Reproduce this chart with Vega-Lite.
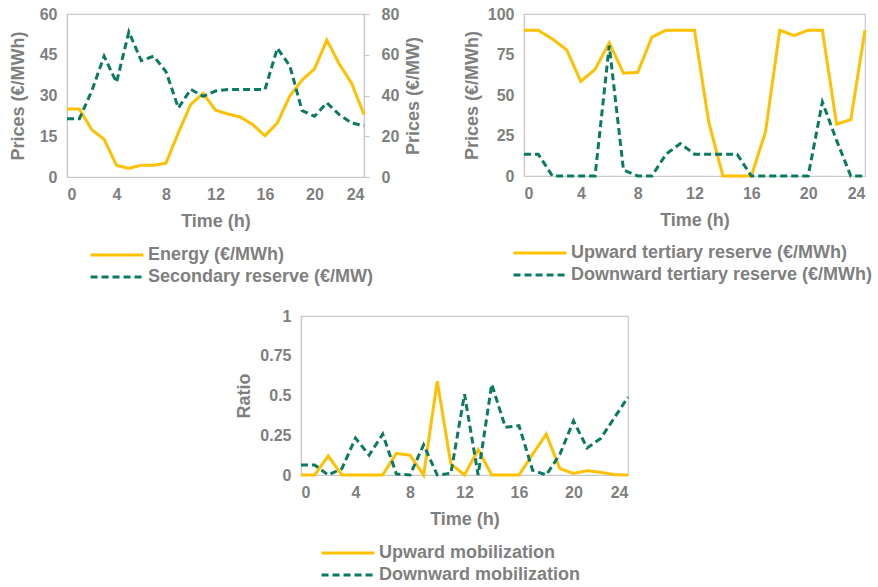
{
  "$schema": "https://vega.github.io/schema/vega-lite/v6.json",
  "padding": {"left": 8, "top": 5, "right": 5, "bottom": 5},
  "background": "white",
  "bounds": "full",
  "spacing": 20,
  "resolve": {"scale": {"color": "independent", "strokeDash": "independent"}},
  "config": {
    "font": "Liberation Sans",
    "view": {"stroke": "#c9c9c9", "strokeWidth": 1.2},
    "axis": {
      "grid": false,
      "labelFont": "Liberation Sans",
      "labelFontWeight": "bold",
      "labelFontSize": 16,
      "labelColor": "#7f7f7f",
      "titleFont": "Liberation Sans",
      "titleFontWeight": "bold",
      "titleFontSize": 18,
      "titleColor": "#7f7f7f",
      "domainColor": "#c9c9c9",
      "domainWidth": 1.2,
      "ticks": false,
      "tickSize": 0,
      "labelPadding": 10
    },
    "legend": {
      "orient": "none",
      "direction": "vertical",
      "padding": 0,
      "symbolType": "M-5,0H5",
      "symbolSize": 112,
      "symbolStrokeWidth": 3,
      "rowPadding": 4,
      "labelFont": "Liberation Sans",
      "labelFontWeight": "bold",
      "labelFontSize": 18,
      "labelColor": "#7f7f7f",
      "labelOffset": 22,
      "labelLimit": 500
    },
    "line": {"strokeWidth": 3}
  },
  "datasets": {
    "energy": [
      {"h": 0, "s": "Energy (€/MWh)", "v": 25}, {"h": 1, "s": "Energy (€/MWh)", "v": 25},
      {"h": 2, "s": "Energy (€/MWh)", "v": 17.4}, {"h": 3, "s": "Energy (€/MWh)", "v": 13.9},
      {"h": 4, "s": "Energy (€/MWh)", "v": 4.3}, {"h": 5, "s": "Energy (€/MWh)", "v": 3.2},
      {"h": 6, "s": "Energy (€/MWh)", "v": 4.3}, {"h": 7, "s": "Energy (€/MWh)", "v": 4.3},
      {"h": 8, "s": "Energy (€/MWh)", "v": 5.1}, {"h": 9, "s": "Energy (€/MWh)", "v": 16.3},
      {"h": 10, "s": "Energy (€/MWh)", "v": 26.7}, {"h": 11, "s": "Energy (€/MWh)", "v": 30.8},
      {"h": 12, "s": "Energy (€/MWh)", "v": 24.6}, {"h": 13, "s": "Energy (€/MWh)", "v": 23.2},
      {"h": 14, "s": "Energy (€/MWh)", "v": 22.1}, {"h": 15, "s": "Energy (€/MWh)", "v": 19.3},
      {"h": 16, "s": "Energy (€/MWh)", "v": 15.2}, {"h": 17, "s": "Energy (€/MWh)", "v": 19.9},
      {"h": 18, "s": "Energy (€/MWh)", "v": 29.8}, {"h": 19, "s": "Energy (€/MWh)", "v": 35.7},
      {"h": 20, "s": "Energy (€/MWh)", "v": 39.8}, {"h": 21, "s": "Energy (€/MWh)", "v": 50.4},
      {"h": 22, "s": "Energy (€/MWh)", "v": 41.6}, {"h": 23, "s": "Energy (€/MWh)", "v": 34.5},
      {"h": 24, "s": "Energy (€/MWh)", "v": 23}
    ],
    "secondary": [
      {"h": 0, "s": "Secondary reserve (€/MW)", "v": 28.6}, {"h": 1, "s": "Secondary reserve (€/MW)", "v": 28.6},
      {"h": 2, "s": "Secondary reserve (€/MW)", "v": 42.2}, {"h": 3, "s": "Secondary reserve (€/MW)", "v": 59.3},
      {"h": 4, "s": "Secondary reserve (€/MW)", "v": 46.4}, {"h": 5, "s": "Secondary reserve (€/MW)", "v": 71.2},
      {"h": 6, "s": "Secondary reserve (€/MW)", "v": 57.1}, {"h": 7, "s": "Secondary reserve (€/MW)", "v": 59.3},
      {"h": 8, "s": "Secondary reserve (€/MW)", "v": 51.7}, {"h": 9, "s": "Secondary reserve (€/MW)", "v": 33.9},
      {"h": 10, "s": "Secondary reserve (€/MW)", "v": 43}, {"h": 11, "s": "Secondary reserve (€/MW)", "v": 39.6},
      {"h": 12, "s": "Secondary reserve (€/MW)", "v": 42.2}, {"h": 13, "s": "Secondary reserve (€/MW)", "v": 43},
      {"h": 14, "s": "Secondary reserve (€/MW)", "v": 43}, {"h": 15, "s": "Secondary reserve (€/MW)", "v": 43},
      {"h": 16, "s": "Secondary reserve (€/MW)", "v": 43}, {"h": 17, "s": "Secondary reserve (€/MW)", "v": 63.2},
      {"h": 18, "s": "Secondary reserve (€/MW)", "v": 54.6}, {"h": 19, "s": "Secondary reserve (€/MW)", "v": 32.6},
      {"h": 20, "s": "Secondary reserve (€/MW)", "v": 29.8}, {"h": 21, "s": "Secondary reserve (€/MW)", "v": 36.4},
      {"h": 22, "s": "Secondary reserve (€/MW)", "v": 30.6}, {"h": 23, "s": "Secondary reserve (€/MW)", "v": 26.5},
      {"h": 24, "s": "Secondary reserve (€/MW)", "v": 25.2}
    ],
    "tertiary": [
      {"h": 0, "s": "Upward tertiary reserve (€/MWh)", "v": 90}, {"h": 1, "s": "Upward tertiary reserve (€/MWh)", "v": 90},
      {"h": 2, "s": "Upward tertiary reserve (€/MWh)", "v": 84.6}, {"h": 3, "s": "Upward tertiary reserve (€/MWh)", "v": 77.9},
      {"h": 4, "s": "Upward tertiary reserve (€/MWh)", "v": 58.4}, {"h": 5, "s": "Upward tertiary reserve (€/MWh)", "v": 65.8},
      {"h": 6, "s": "Upward tertiary reserve (€/MWh)", "v": 82.2}, {"h": 7, "s": "Upward tertiary reserve (€/MWh)", "v": 63.5},
      {"h": 8, "s": "Upward tertiary reserve (€/MWh)", "v": 63.9}, {"h": 9, "s": "Upward tertiary reserve (€/MWh)", "v": 85.7},
      {"h": 10, "s": "Upward tertiary reserve (€/MWh)", "v": 90}, {"h": 11, "s": "Upward tertiary reserve (€/MWh)", "v": 90},
      {"h": 12, "s": "Upward tertiary reserve (€/MWh)", "v": 90}, {"h": 13, "s": "Upward tertiary reserve (€/MWh)", "v": 33.4},
      {"h": 14, "s": "Upward tertiary reserve (€/MWh)", "v": 0}, {"h": 15, "s": "Upward tertiary reserve (€/MWh)", "v": 0},
      {"h": 16, "s": "Upward tertiary reserve (€/MWh)", "v": 0}, {"h": 17, "s": "Upward tertiary reserve (€/MWh)", "v": 27.3},
      {"h": 18, "s": "Upward tertiary reserve (€/MWh)", "v": 90}, {"h": 19, "s": "Upward tertiary reserve (€/MWh)", "v": 86.7},
      {"h": 20, "s": "Upward tertiary reserve (€/MWh)", "v": 90}, {"h": 21, "s": "Upward tertiary reserve (€/MWh)", "v": 90},
      {"h": 22, "s": "Upward tertiary reserve (€/MWh)", "v": 32}, {"h": 23, "s": "Upward tertiary reserve (€/MWh)", "v": 34.8},
      {"h": 24, "s": "Upward tertiary reserve (€/MWh)", "v": 90},
      {"h": 0, "s": "Downward tertiary reserve (€/MWh)", "v": 13.5}, {"h": 1, "s": "Downward tertiary reserve (€/MWh)", "v": 13.5},
      {"h": 2, "s": "Downward tertiary reserve (€/MWh)", "v": 0}, {"h": 3, "s": "Downward tertiary reserve (€/MWh)", "v": 0},
      {"h": 4, "s": "Downward tertiary reserve (€/MWh)", "v": 0}, {"h": 5, "s": "Downward tertiary reserve (€/MWh)", "v": 0},
      {"h": 6, "s": "Downward tertiary reserve (€/MWh)", "v": 80.5}, {"h": 7, "s": "Downward tertiary reserve (€/MWh)", "v": 3.7},
      {"h": 8, "s": "Downward tertiary reserve (€/MWh)", "v": 0}, {"h": 9, "s": "Downward tertiary reserve (€/MWh)", "v": 0},
      {"h": 10, "s": "Downward tertiary reserve (€/MWh)", "v": 13.5}, {"h": 11, "s": "Downward tertiary reserve (€/MWh)", "v": 20},
      {"h": 12, "s": "Downward tertiary reserve (€/MWh)", "v": 13.5}, {"h": 13, "s": "Downward tertiary reserve (€/MWh)", "v": 13.5},
      {"h": 14, "s": "Downward tertiary reserve (€/MWh)", "v": 13.5}, {"h": 15, "s": "Downward tertiary reserve (€/MWh)", "v": 13.5},
      {"h": 16, "s": "Downward tertiary reserve (€/MWh)", "v": 0}, {"h": 17, "s": "Downward tertiary reserve (€/MWh)", "v": 0},
      {"h": 18, "s": "Downward tertiary reserve (€/MWh)", "v": 0}, {"h": 19, "s": "Downward tertiary reserve (€/MWh)", "v": 0},
      {"h": 20, "s": "Downward tertiary reserve (€/MWh)", "v": 0}, {"h": 21, "s": "Downward tertiary reserve (€/MWh)", "v": 45.7},
      {"h": 22, "s": "Downward tertiary reserve (€/MWh)", "v": 22}, {"h": 23, "s": "Downward tertiary reserve (€/MWh)", "v": 0},
      {"h": 24, "s": "Downward tertiary reserve (€/MWh)", "v": 0}
    ],
    "mobilization": [
      {"h": 0, "s": "Upward mobilization", "v": 0}, {"h": 1, "s": "Upward mobilization", "v": 0},
      {"h": 2, "s": "Upward mobilization", "v": 0.12}, {"h": 3, "s": "Upward mobilization", "v": 0},
      {"h": 4, "s": "Upward mobilization", "v": 0}, {"h": 5, "s": "Upward mobilization", "v": 0},
      {"h": 6, "s": "Upward mobilization", "v": 0}, {"h": 7, "s": "Upward mobilization", "v": 0.136},
      {"h": 8, "s": "Upward mobilization", "v": 0.125}, {"h": 9, "s": "Upward mobilization", "v": 0},
      {"h": 10, "s": "Upward mobilization", "v": 0.59}, {"h": 11, "s": "Upward mobilization", "v": 0.07},
      {"h": 12, "s": "Upward mobilization", "v": 0}, {"h": 13, "s": "Upward mobilization", "v": 0.16},
      {"h": 14, "s": "Upward mobilization", "v": 0}, {"h": 15, "s": "Upward mobilization", "v": 0},
      {"h": 16, "s": "Upward mobilization", "v": 0}, {"h": 17, "s": "Upward mobilization", "v": 0.13},
      {"h": 18, "s": "Upward mobilization", "v": 0.257}, {"h": 19, "s": "Upward mobilization", "v": 0.04},
      {"h": 20, "s": "Upward mobilization", "v": 0.01}, {"h": 21, "s": "Upward mobilization", "v": 0.027},
      {"h": 22, "s": "Upward mobilization", "v": 0.017}, {"h": 23, "s": "Upward mobilization", "v": 0.002},
      {"h": 24, "s": "Upward mobilization", "v": 0},
      {"h": 0, "s": "Downward mobilization", "v": 0.063}, {"h": 1, "s": "Downward mobilization", "v": 0.063},
      {"h": 2, "s": "Downward mobilization", "v": 0}, {"h": 3, "s": "Downward mobilization", "v": 0.04},
      {"h": 4, "s": "Downward mobilization", "v": 0.232}, {"h": 5, "s": "Downward mobilization", "v": 0.125},
      {"h": 6, "s": "Downward mobilization", "v": 0.257}, {"h": 7, "s": "Downward mobilization", "v": 0.006},
      {"h": 8, "s": "Downward mobilization", "v": 0}, {"h": 9, "s": "Downward mobilization", "v": 0.19},
      {"h": 10, "s": "Downward mobilization", "v": 0}, {"h": 11, "s": "Downward mobilization", "v": 0.01},
      {"h": 12, "s": "Downward mobilization", "v": 0.508}, {"h": 13, "s": "Downward mobilization", "v": 0},
      {"h": 14, "s": "Downward mobilization", "v": 0.571}, {"h": 15, "s": "Downward mobilization", "v": 0.3},
      {"h": 16, "s": "Downward mobilization", "v": 0.31}, {"h": 17, "s": "Downward mobilization", "v": 0.03},
      {"h": 18, "s": "Downward mobilization", "v": 0}, {"h": 19, "s": "Downward mobilization", "v": 0.13},
      {"h": 20, "s": "Downward mobilization", "v": 0.34}, {"h": 21, "s": "Downward mobilization", "v": 0.17},
      {"h": 22, "s": "Downward mobilization", "v": 0.23}, {"h": 23, "s": "Downward mobilization", "v": 0.36},
      {"h": 24, "s": "Downward mobilization", "v": 0.49}
    ]
  },
  "vconcat": [
    {
      "bounds": "flush",
      "spacing": 160,
      "resolve": {"scale": {"color": "independent", "strokeDash": "independent"}},
      "hconcat": [
        {
          "width": 297,
          "height": 163,
          "encoding": {
            "x": {
              "field": "h", "type": "quantitative",
              "scale": {"domain": [0, 24], "nice": false},
              "axis": {"values": [0, 4, 8, 12, 16, 20, 24], "title": "Time (h)", "labelPadding": 9, "titlePadding": 10}
            },
            "color": {
              "field": "s", "type": "nominal",
              "scale": {"domain": ["Energy (€/MWh)", "Secondary reserve (€/MW)"], "range": ["#ffc000", "#0a7a62"]},
              "legend": {"title": null, "legendX": 41, "legendY": 232}
            },
            "strokeDash": {
              "field": "s", "type": "nominal",
              "scale": {"domain": ["Energy (€/MWh)", "Secondary reserve (€/MW)"], "range": [[1, 0], [7, 4]]},
              "legend": {"title": null, "legendX": 41, "legendY": 232}
            }
          },
          "layer": [
            {
              "data": {"name": "energy"},
              "mark": {"type": "line", "strokeWidth": 3},
              "encoding": {
                "y": {
                  "field": "v", "type": "quantitative",
                  "scale": {"domain": [0, 60], "nice": false},
                  "axis": {"values": [0, 15, 30, 45, 60], "title": "Prices (€/MWh)", "titlePadding": 12}
                }
              }
            },
            {
              "data": {"name": "secondary"},
              "mark": {"type": "line", "strokeWidth": 3},
              "encoding": {
                "y": {
                  "field": "v", "type": "quantitative",
                  "scale": {"domain": [0, 80], "nice": false},
                  "axis": {
                    "orient": "right",
                    "values": [0, 20, 40, 60, 80],
                    "title": "Prices (€/MW)",
                    "ticks": true, "tickSize": 5, "tickColor": "#c9c9c9", "tickWidth": 1.2,
                    "labelPadding": 12,
                    "titleAngle": 270, "titleBaseline": "top", "titlePadding": 6
                  }
                }
              }
            }
          ],
          "resolve": {"scale": {"y": "independent"}}
        },
        {
          "width": 341,
          "height": 162,
          "data": {"name": "tertiary"},
          "mark": {"type": "line", "strokeWidth": 3},
          "encoding": {
            "x": {
              "field": "h", "type": "quantitative",
              "scale": {"domain": [0, 24], "nice": false},
              "axis": {"values": [0, 4, 8, 12, 16, 20, 24], "title": "Time (h)", "labelPadding": 9, "titlePadding": 10}
            },
            "y": {
              "field": "v", "type": "quantitative",
              "scale": {"domain": [0, 100], "nice": false},
              "axis": {"values": [0, 25, 50, 75, 100], "title": "Prices (€/MWh)", "titlePadding": 6}
            },
            "color": {
              "field": "s", "type": "nominal",
              "scale": {"domain": ["Upward tertiary reserve (€/MWh)", "Downward tertiary reserve (€/MWh)"], "range": ["#ffc000", "#0a7a62"]},
              "legend": {"title": null, "legendX": 7, "legendY": 230}
            },
            "strokeDash": {
              "field": "s", "type": "nominal",
              "scale": {"domain": ["Upward tertiary reserve (€/MWh)", "Downward tertiary reserve (€/MWh)"], "range": [[1, 0], [7, 4]]},
              "legend": {"title": null, "legendX": 7, "legendY": 230}
            }
          }
        }
      ]
    },
    {
      "bounds": "flush",
      "spacing": 0,
      "resolve": {"scale": {"color": "independent", "strokeDash": "independent"}},
      "hconcat": [
        {
          "width": 234,
          "height": 10,
          "view": {"stroke": null},
          "data": {"values": []},
          "mark": "point",
          "encoding": {}
        },
        {
          "width": 327,
          "height": 159,
          "data": {"name": "mobilization"},
          "mark": {"type": "line", "strokeWidth": 3},
          "encoding": {
            "x": {
              "field": "h", "type": "quantitative",
              "scale": {"domain": [0, 24], "nice": false},
              "axis": {"values": [0, 4, 8, 12, 16, 20, 24], "title": "Time (h)", "labelPadding": 9, "titlePadding": 10}
            },
            "y": {
              "field": "v", "type": "quantitative",
              "scale": {"domain": [0, 1], "nice": false},
              "axis": {"values": [0, 0.25, 0.5, 0.75, 1], "format": ".2~f", "title": "Ratio", "titlePadding": 6}
            },
            "color": {
              "field": "s", "type": "nominal",
              "scale": {"domain": ["Upward mobilization", "Downward mobilization"], "range": ["#ffc000", "#0a7a62"]},
              "legend": {"title": null, "legendX": 38, "legendY": 228}
            },
            "strokeDash": {
              "field": "s", "type": "nominal",
              "scale": {"domain": ["Upward mobilization", "Downward mobilization"], "range": [[1, 0], [7, 4]]},
              "legend": {"title": null, "legendX": 38, "legendY": 228}
            }
          }
        }
      ]
    }
  ]
}
